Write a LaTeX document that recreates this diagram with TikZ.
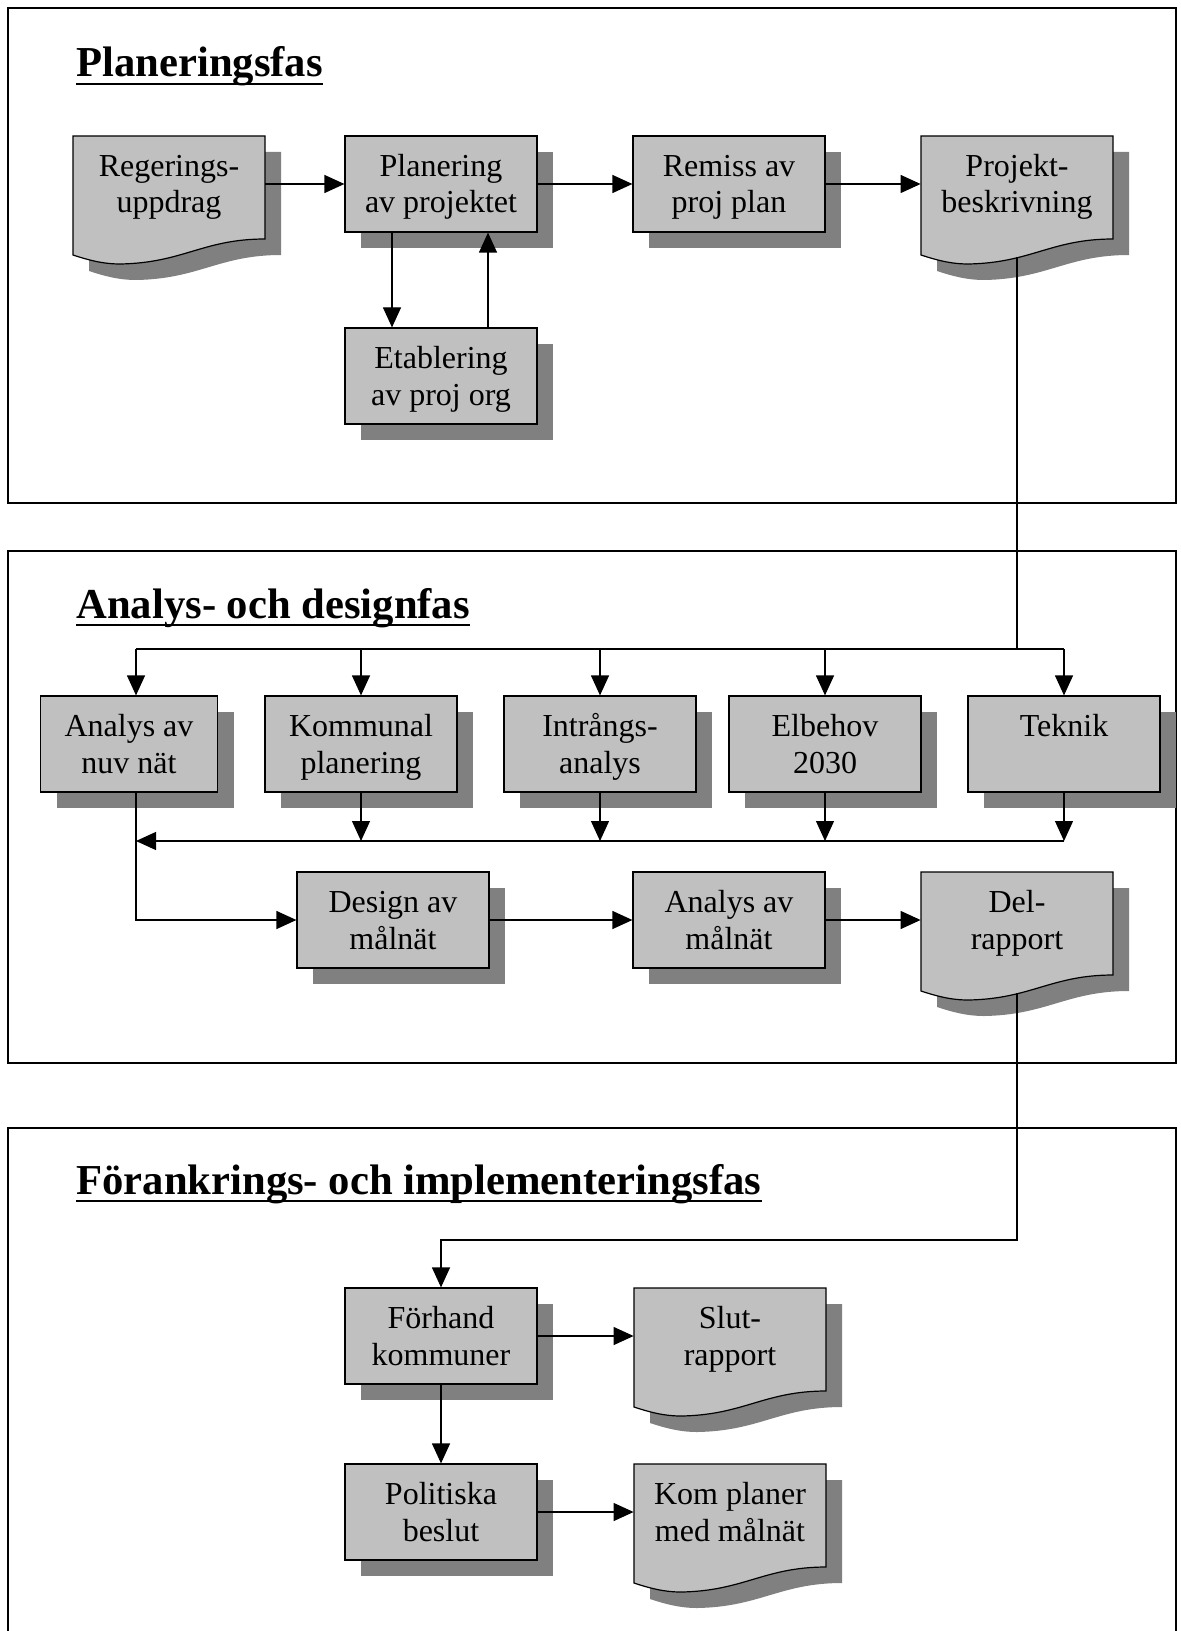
\documentclass[tikz,border=0pt]{standalone}
\usepackage{fontspec}
\setmainfont{Liberation Serif}
\usetikzlibrary{arrows.meta,shadows}

\definecolor{boxgray}{HTML}{C0C0C0}
\definecolor{shadegray}{HTML}{808080}

\newcommand\boxfont{\fontsize{16}{18.3}\selectfont}
\newcommand\titlefont{\fontsize{21.33}{25}\selectfont\bfseries}
% two lines of box text, with fixed line heights
\newcommand\two[2]{\rule{0pt}{14.2pt}#1\\#2\rule[-3.5pt]{0pt}{3.5pt}}

\tikzset{
  arr/.style={-{Triangle[length=10pt,width=9pt]}, line width=0.6pt},
  task/.style={draw, line width=0.6pt, fill=boxgray, minimum width=96pt,
    minimum height=48pt, align=center, inner sep=0pt, font=\boxfont,
    drop shadow={shadow xshift=8pt, shadow yshift=-8pt, fill=shadegray, opacity=1}},
  doc/.style={minimum width=96pt, minimum height=48pt, align=center,
    inner sep=0pt, font=\boxfont},
  phase/.style={draw, line width=0.8pt},
  title/.style={anchor=base west, inner sep=0pt, font=\titlefont},
}

% document shape: name, left, top, text
\newcommand\docbox[4]{%
  \fill[shadegray] (#2+16,#3+16) -- (#2+208,#3+16) -- (#2+208,#3+119)
    .. controls (#2+146,#3+119) and (#2+126,#3+143) .. (#2+63,#3+144)
    .. controls (#2+46,#3+144) and (#2+31,#3+140) .. (#2+16,#3+135) -- cycle;
  \filldraw[fill=boxgray, line width=0.6pt] (#2,#3) -- (#2+192,#3) -- (#2+192,#3+103)
    .. controls (#2+130,#3+103) and (#2+110,#3+127) .. (#2+47,#3+128)
    .. controls (#2+30,#3+128) and (#2+15,#3+124) .. (#2,#3+119) -- cycle;
  \node[doc] (#1) at (#2+96,#3+48) {#4};
  \coordinate (#1_out) at (#2+96,#3+121);
}

\begin{document}
\begin{tikzpicture}[x=0.5pt, y=-0.5pt]
\useasboundingbox (0,0) rectangle (1181,1631);

\draw[phase] (8,8) rectangle (1176,503);
\draw[phase] (8,551) rectangle (1176,1063);
\draw[phase] (8,1660) -- (8,1128) -- (1176,1128) -- (1176,1660);

\node[title] (t_plan) at (76,77) {Planeringsfas};
\node[title] (t_anal) at (76,618) {Analys- och designfas};
\node[title] (t_fork) at (76,1194) {Förankrings- och implementeringsfas};
\foreach \t in {t_plan, t_anal, t_fork}
  \draw[line width=1.2pt] ([yshift=-3.5pt]\t.base west) -- ([yshift=-3.5pt]\t.base east);

% planeringsfas
\docbox{reg}{73}{136}{\two{Regerings-}{uppdrag}}
\node[task] (plan) at (441,184) {\two{Planering}{av projektet}};
\node[task] (remiss) at (729,184) {\two{Remiss av}{proj plan}};
\docbox{proj}{921}{136}{\two{Projekt-}{beskrivning}}
\node[task] (etab) at (441,376) {\two{Etablering}{av proj org}};

\draw[arr] (reg) -- (plan);
\draw[arr] (plan) -- (remiss);
\draw[arr] (remiss) -- (proj);
\draw[arr] ([shift={(-49,0)}]plan.south) -- ([shift={(-49,0)}]etab.north);
\draw[arr] ([shift={(47,0)}]etab.north) -- ([shift={(47,0)}]plan.south);

% analys- och designfas
\coordinate (bl) at (136,649);
\coordinate (br) at (1064,649);
\coordinate (cl) at (136,841);
\coordinate (cr) at (1064,841);
\draw[line width=0.6pt] (proj_out) -- (proj_out |- bl);
\draw[line width=0.6pt] (bl) -- (br);

\node[task, minimum width=88.5pt] (nuv) at (129,744) {\two{Analys av}{nuv nät}};
\draw[arr] (bl) -- (bl |- nuv.north);
\foreach \n/\x/\a/\b in {kom/361/Kommunal/planering,
                         intr/600/Intrångs-/analys,
                         elb/825/Elbehov/2030,
                         tek/1064/Teknik/} {
  \node[task] (\n) at (\x,744) {\two{\a}{\b}};
  \draw[arr] (\n.north |- bl) -- (\n.north);
  \draw[arr] (\n.south) -- (\n.south |- cl);
}
\draw[arr] (cr) -- (cl);

\node[task] (design) at (393,920) {\two{Design av}{målnät}};
\node[task] (amal) at (729,920) {\two{Analys av}{målnät}};
\docbox{del}{921}{872}{\two{Del-}{rapport}}

\draw[arr] (bl |- nuv.south) |- (design);
\draw[arr] (design) -- (amal);
\draw[arr] (amal) -- (del);

% forankrings- och implementeringsfas
\node[task] (forh) at (441,1336) {\two{Förhand}{kommuner}};
\docbox{slut}{634}{1288}{\two{Slut-}{rapport}}
\node[task] (pol) at (441,1512) {\two{Politiska}{beslut}};
\docbox{komp}{634}{1464}{\two{Kom planer}{med målnät}}

\coordinate (turn) at (441,1240);
\draw[arr] (del_out) |- (turn) -- (forh.north);
\draw[arr] (forh) -- (slut);
\draw[arr] (forh) -- (pol);
\draw[arr] (pol) -- (komp);

\end{tikzpicture}
\end{document}
